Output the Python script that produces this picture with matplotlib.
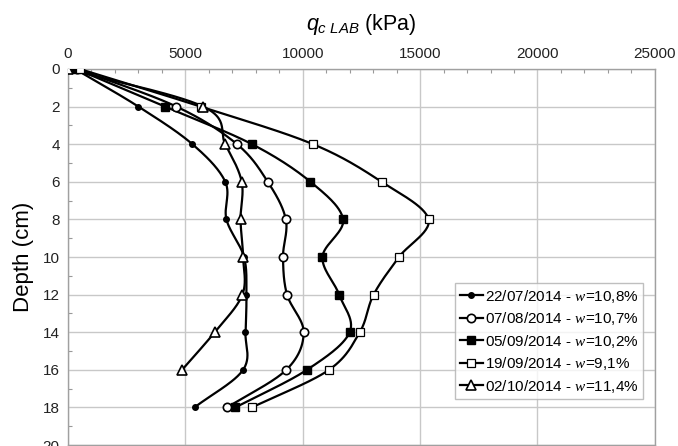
import numpy as np
import matplotlib
matplotlib.use("Agg")
import matplotlib.pyplot as plt
from matplotlib.ticker import MultipleLocator

plt.rcParams["font.family"] = ["Liberation Sans", "DejaVu Sans"]
plt.rcParams["mathtext.fontset"] = "custom"
plt.rcParams["mathtext.it"] = "Liberation Sans:italic"
plt.rcParams["mathtext.rm"] = "Liberation Sans"
plt.rcParams["mathtext.sf"] = "Liberation Serif:italic"

# Cone resistance profiles (kPa) against depth (cm)
depth = [0, 2, 4, 6, 8, 10, 12, 14, 16, 18]
qc_2207 = [300, 3000, 5300, 6700, 6750, 7500, 7600, 7560, 7460, 5390]
qc_0708 = [400, 4620, 7200, 8510, 9280, 9160, 9330, 10040, 9300, 6780]
qc_0509 = [350, 4130, 7840, 10330, 11720, 10840, 11550, 12000, 10180, 7130]
qc_1909 = [500, 5650, 10440, 13360, 15360, 14100, 13020, 12430, 11120, 7840]
depth_0210 = [0, 2, 4, 6, 8, 10, 12, 14, 16]
qc_0210 = [0, 5760, 6700, 7400, 7350, 7460, 7430, 6250, 4860]

labels = [
    "22/07/2014 - $\\mathsf{w}$=10,8%",
    "07/08/2014 - $\\mathsf{w}$=10,7%",
    "05/09/2014 - $\\mathsf{w}$=10,2%",
    "19/09/2014 - $\\mathsf{w}$=9,1%",
    "02/10/2014 - $\\mathsf{w}$=11,4%",
]

fig = plt.figure(figsize=(6.78, 4.46), dpi=100)
ax = fig.add_axes([0.1003, 0.0022, 0.8655, 0.8431])
ax.set_xlim(0, 25000)
ax.set_ylim(20, 0)


def smooth(ax, xs, ys, n=30):
    """Catmull-Rom spline through the points, computed in display space."""
    pts = ax.transData.transform(np.column_stack([xs, ys]))
    p = np.vstack([2 * pts[0] - pts[1], pts, 2 * pts[-1] - pts[-2]])
    out = []
    t = np.linspace(0, 1, n)[:, None]
    for i in range(1, len(p) - 2):
        p0, p1, p2, p3 = p[i - 1], p[i], p[i + 1], p[i + 2]
        seg = 0.5 * ((2 * p1) + (-p0 + p2) * t + (2 * p0 - 5 * p1 + 4 * p2 - p3) * t ** 2
                     + (-p0 + 3 * p1 - 3 * p2 + p3) * t ** 3)
        out.append(seg if i == 1 else seg[1:])
    out = np.vstack(out)
    data = ax.transData.inverted().transform(out)
    return data[:, 0], data[:, 1]


styles = [
    dict(marker="o", ms=4.0, mfc="black", mec="black"),
    dict(marker="o", ms=6.0, mfc="white", mec="black", mew=1.2),
    dict(marker="s", ms=6.0, mfc="black", mec="black"),
    dict(marker="s", ms=5.5, mfc="white", mec="black", mew=0.9),
    dict(marker="^", ms=6.5, mfc="white", mec="black", mew=1.2),
]
series = [
    (qc_2207, depth),
    (qc_0708, depth),
    (qc_0509, depth),
    (qc_1909, depth),
    (qc_0210, depth_0210),
]

handles = []
for (xs, ys), st, lab in zip(series, styles, labels):
    sx, sy = smooth(ax, xs, ys)
    ax.plot(sx, sy, color="black", lw=1.6, zorder=3)
    ax.plot(xs, ys, ls="none", zorder=4, **st)
    h, = ax.plot([], [], color="black", lw=1.6, label=lab, **st)
    handles.append(h)

# Axes on top, depth increasing downward
ax.xaxis.set_ticks_position("top")
ax.xaxis.set_label_position("top")
ax.xaxis.set_major_locator(MultipleLocator(5000))
ax.xaxis.set_minor_locator(MultipleLocator(1000))
ax.yaxis.set_major_locator(MultipleLocator(2))
ax.yaxis.set_minor_locator(MultipleLocator(1))
ax.tick_params(which="major", length=0, labelsize=11, pad=6, colors="#222222")
ax.tick_params(which="minor", direction="in", length=3, color="#999999", width=0.8)
ax.tick_params(axis="y", which="minor", left=True)
ax.tick_params(axis="x", which="minor", top=True, bottom=False)

ax.grid(True, which="major", color="#c8c8c8", lw=1.0)
ax.set_axisbelow(True)
for side in ["top", "left", "right", "bottom"]:
    ax.spines[side].set_color("#a0a0a0")
    ax.spines[side].set_linewidth(1.0)

ax.set_xlabel(r"$q_{c\ LAB}$ (kPa)", fontsize=15.5, labelpad=12)
ax.set_ylabel("Depth (cm)", fontsize=16, labelpad=6)

leg = ax.legend(handles=handles, loc="upper left", bbox_to_anchor=(0.660, 0.431),
                fontsize=11, frameon=True, fancybox=False, handlelength=1.5,
                handletextpad=0.15, borderpad=0.3, labelspacing=0.36,
                borderaxespad=0.0)
leg.get_frame().set_edgecolor("#b0b0b0")
leg.get_frame().set_linewidth(1.0)

fig.savefig("out.png", dpi=100)
